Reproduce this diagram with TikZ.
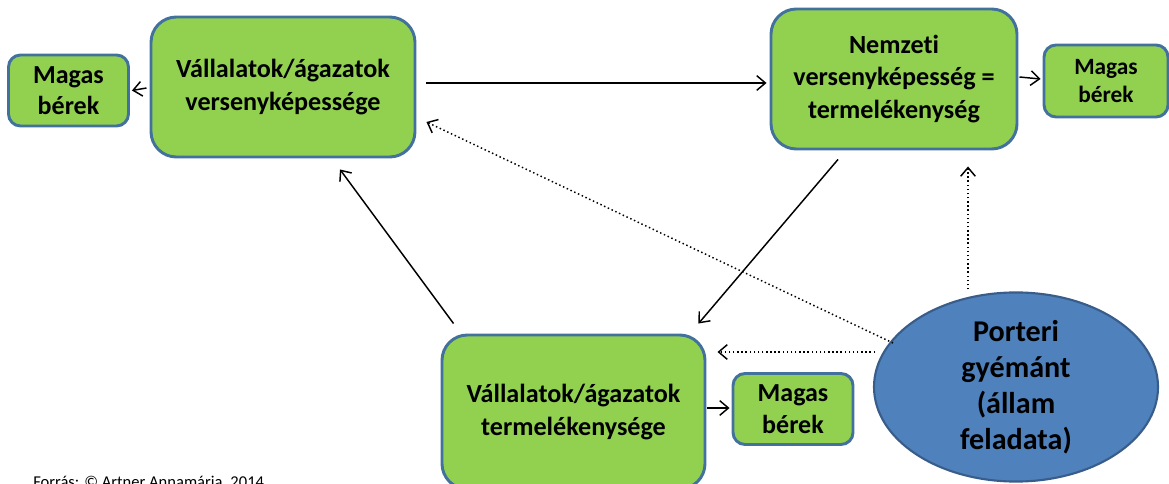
\documentclass[tikz,border=0pt]{standalone}
\usepackage{fontspec}
\setmainfont{Carlito}[Ligatures=NoCommon]
\usetikzlibrary{arrows.meta,shapes.geometric}
\newcommand\pxu{0.75pt}
\definecolor{boxgreen}{HTML}{92D050}
\definecolor{boxedge}{HTML}{41719C}
\definecolor{ovalblue}{HTML}{4F81BD}
\definecolor{ovaledge}{HTML}{385D8A}

\begin{document}
\begin{tikzpicture}[x=0.75pt, y=-0.75pt,
		bigbox/.style={draw=boxedge, fill=boxgreen, line width=2.2pt, rounded corners=19pt, align=center, inner sep=0pt,
			font=\bfseries\fontsize{19.6}{24.5}\selectfont},
		wagebox/.style={draw=boxedge, fill=boxgreen, line width=2.2pt, rounded corners=9pt, align=center, inner sep=0pt,
			minimum width=120*\pxu, minimum height=71*\pxu, font=\bfseries\fontsize{19.5}{23.5}\selectfont},
		porter/.style={ellipse, draw=ovaledge, fill=ovalblue, line width=1.6pt, align=center, inner sep=0pt,
			minimum width=284*\pxu, minimum height=160*\pxu, font=\bfseries\fontsize{22.6}{27}\selectfont},
		arr/.style={-{Straight Barb[length=6.5pt,width=11pt]}, line width=1.1pt},
		dotarr/.style={arr, dotted}
			]
	\useasboundingbox (0,0) rectangle (1169,484);

	\node[bigbox, minimum width=264*\pxu, minimum height=140*\pxu] (compet) at (283,87) {Vállalatok/ágazatok\\versenyképessége};
	\node[wagebox] (wageL) at (68.5,90.5) {Magas\\bérek};
	\node[bigbox, minimum width=246*\pxu, minimum height=140*\pxu] (nation) at (894,79) {Nemzeti\\versenyképesség =\\termelékenység};
	\node[wagebox, minimum width=124*\pxu, minimum height=72*\pxu, font=\bfseries\fontsize{17.5}{21}\selectfont] (wageR) at (1106,81) {Magas\\bérek};
	\node[bigbox, minimum width=263*\pxu, minimum height=154*\pxu] (product) at (573.5,412) {Vállalatok/ágazatok\\termelékenysége};
	\node[wagebox] (wageB) at (793,409) {Magas\\bérek};
	\node[porter] (diamond) at (1016,387) {Porteri\\gyémánt\\(állam\\feladata)};

	\node[anchor=north west, inner sep=0pt, font=\fontsize{12.4}{15}\selectfont] (source) at (33,476) {Forrás: © Artner Annamária, 2014};

	\draw[arr] ([shift={(-3,1)}]compet.west) -- ([shift={(2,0)}]wageL.east);
	\draw[arr] ([shift={(10,-4)}]compet.east) -- ([shift={(-3,4)}]nation.west);
	\draw[arr] ([shift={(1,-2)}]nation.east) -- ([shift={(-2,-2)}]wageR.west);
	\draw[arr] ([shift={(1,-4)}]product.east) -- ([shift={(-2,-1)}]wageB.west);
	\draw[arr] ([shift={(-56,9)}]nation.south) -- ([shift={(-8,-10)}]product.north east);
	\draw[arr] ([shift={(13,-10)}]product.north west) -- ([shift={(57,11)}]compet.south);

	\draw[dotarr] ([shift={(-123,-44)}]diamond.center) -- ([shift={(10,35)}]compet.east);
	\draw[dotarr] ([shift={(-141,-35)}]diamond.center) -- ([shift={(11,-60)}]product.east);
	\draw[dotarr] ([shift={(-48,-2)}]diamond.north) -- ([shift={(74,16)}]nation.south);
\end{tikzpicture}
\end{document}
